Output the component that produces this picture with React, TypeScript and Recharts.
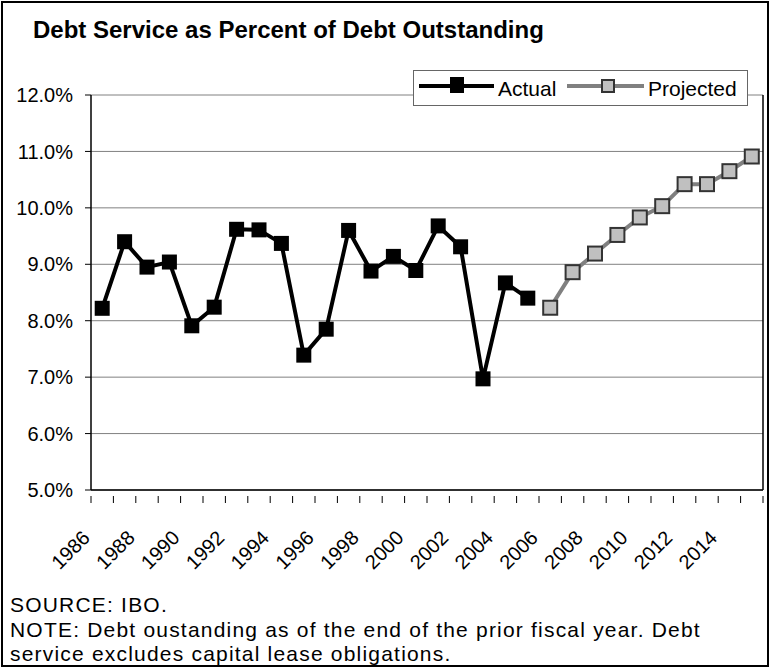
import {
  LineChart,
  Line,
  XAxis,
  YAxis,
  CartesianGrid,
  ReferenceLine,
} from 'recharts';

const years = [
  1986, 1987, 1988, 1989, 1990, 1991, 1992, 1993, 1994, 1995,
  1996, 1997, 1998, 1999, 2000, 2001, 2002, 2003, 2004, 2005,
  2006, 2007, 2008, 2009, 2010, 2011, 2012, 2013, 2014, 2015,
];

// percent, null where the series has no point
const actual = [
  8.22, 9.4, 8.95, 9.04, 7.91, 8.24, 9.62, 9.61, 9.37, 7.39,
  7.85, 9.6, 8.88, 9.14, 8.89, 9.68, 9.31, 6.97, 8.67, 8.4,
  null, null, null, null, null, null, null, null, null, null,
];

const projected = [
  null, null, null, null, null, null, null, null, null, null,
  null, null, null, null, null, null, null, null, null, null,
  8.23, 8.86, 9.19, 9.52, 9.83, 10.03, 10.42, 10.42, 10.65, 10.91,
];

const yTicks = [5, 6, 7, 8, 9, 10, 11, 12];

const data = years.map((year, i) => ({
  year,
  actual: actual[i],
  projected: projected[i],
}));

// ticks at category edges (x.5) and centers (labels on even years)
const xTicks: number[] = [];
for (let i = 0; i <= years.length * 2; i++) xTicks.push(years[0] - 0.5 + i / 2);

const FONT = '"Liberation Sans", Arial, sans-serif';

function SquareDot(props: any) {
  const { cx, cy, value, fill, stroke, size, strokeWidth } = props;
  if (value == null || cx == null || cy == null) return null;
  return (
    <rect
      x={cx - size / 2}
      y={cy - size / 2}
      width={size}
      height={size}
      fill={fill}
      stroke={stroke}
      strokeWidth={strokeWidth}
    />
  );
}

function YearTick(props: any) {
  const { x, y, payload } = props;
  const v = payload.value as number;
  if (v % 1 !== 0) {
    return <line x1={x} y1={y} x2={x} y2={y + 7} stroke="#000" strokeWidth={1} />;
  }
  if (v % 2 !== 0) return null;
  const tx = x - 11;
  const ty = y + 43;
  return (
    <text
      x={tx}
      y={ty}
      textAnchor="end"
      fontSize={20}
      fontFamily={FONT}
      fill="#000"
      transform={`rotate(-45 ${tx} ${ty})`}
    >
      {v}
    </text>
  );
}

function LegendBox() {
  return (
    <div
      style={{
        position: 'absolute',
        left: 413,
        top: 70,
        width: 335,
        height: 36,
        background: '#fff',
        border: '1px solid #666',
        boxSizing: 'border-box',
      }}
    >
      <svg width={333} height={34} style={{ position: 'absolute', left: 0, top: 0 }}>
        <line x1={5} y1={15} x2={80} y2={15} stroke="#000" strokeWidth={4} />
        <rect x={36} y={6} width={14} height={16} fill="#000" />
        <line x1={153} y1={15} x2={230} y2={15} stroke="#808080" strokeWidth={4} />
        <rect x={188} y={9} width={12} height={12} fill="#c0c0c0" stroke="#333" strokeWidth={2} />
        <text x={84} y={25} fontSize={21} fontFamily={FONT} fill="#000">Actual</text>
        <text x={234} y={25} fontSize={21} fontFamily={FONT} fill="#000">Projected</text>
      </svg>
    </div>
  );
}

export default function App() {
  return (
    <div style={{ position: 'relative', width: 771, height: 669, background: '#fff', fontFamily: FONT }}>
      <style>{'body{margin:0}'}</style>
      <div
        style={{
          position: 'absolute',
          left: 1,
          top: 1,
          width: 768,
          height: 666,
          border: '2px solid #000',
          boxSizing: 'border-box',
        }}
      />
      <div
        style={{
          position: 'absolute',
          left: 33,
          top: 16,
          fontSize: 24,
          lineHeight: '28px',
          fontWeight: 'bold',
          fontFamily: FONT,
        }}
      >
        Debt Service as Percent of Debt Outstanding
      </div>
      <div style={{ position: 'absolute', left: 0, top: 0 }}>
        <LineChart
          width={771}
          height={669}
          data={data}
          margin={{ top: 95, right: 8, bottom: 119, left: 21 }}
        >
          <CartesianGrid vertical={false} stroke="#808080" strokeWidth={1} />
          <XAxis
            dataKey="year"
            type="number"
            domain={[years[0] - 0.5, years[years.length - 1] + 0.5]}
            ticks={xTicks}
            interval={0}
            tick={<YearTick />}
            tickLine={false}
            tickSize={6}
            tickMargin={0}
            axisLine={{ stroke: '#000', strokeWidth: 1.5 }}
            height={60}
          />
          <YAxis
            domain={[5, 12]}
            ticks={yTicks}
            interval={0}
            tickFormatter={(v: number) => `${v.toFixed(1)}%`}
            tick={{ fill: '#000', fontSize: 20, fontFamily: FONT }}
            tickLine={{ stroke: '#000' }}
            tickSize={6}
            tickMargin={12}
            axisLine={{ stroke: '#000', strokeWidth: 1.5 }}
            width={70}
          />
          <ReferenceLine x={years[years.length - 1] + 0.5} stroke="#000" strokeWidth={1.5} />
          <Line
            dataKey="actual"
            stroke="#000"
            strokeWidth={4}
            connectNulls={false}
            isAnimationActive={false}
            dot={<SquareDot size={15} fill="#000" stroke="#000" strokeWidth={0} />}
            activeDot={false}
          />
          <Line
            dataKey="projected"
            stroke="#808080"
            strokeWidth={4}
            connectNulls={false}
            isAnimationActive={false}
            dot={<SquareDot size={14} fill="#c0c0c0" stroke="#333" strokeWidth={2} />}
            activeDot={false}
          />
        </LineChart>
      </div>
      <LegendBox />
      <div
        style={{
          position: 'absolute',
          left: 10,
          top: 593,
          fontSize: 21,
          lineHeight: '24.5px',
          letterSpacing: 1.2,
          fontFamily: FONT,
          width: 750,
          whiteSpace: 'nowrap',
        }}
      >
        SOURCE: IBO.
        <br />
        NOTE: Debt oustanding as of the end of the prior fiscal year. Debt
        <br />
        service excludes capital lease obligations.
      </div>
    </div>
  );
}
